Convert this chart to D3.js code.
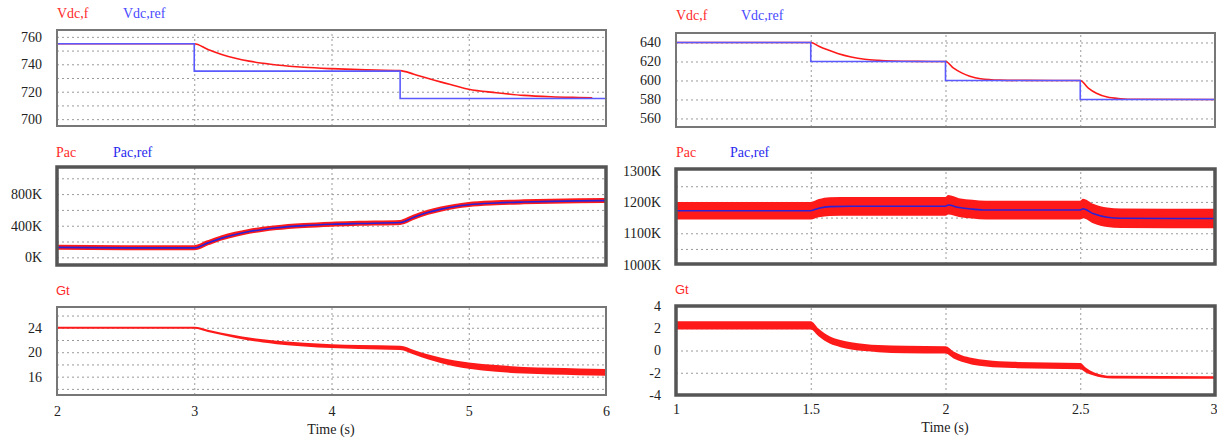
<!DOCTYPE html>
<html><head><meta charset="utf-8">
<script src="https://cdn.jsdelivr.net/npm/d3@7"></script>
<style>body{margin:0;background:#fff}svg{display:block}</style>
</head><body><svg id="c" width="1217" height="441"></svg>
<script>
// ---------- data ----------
const leftXTicks = [2, 3, 4, 5, 6];
const rightXTicks = [1, 1.5, 2, 2.5, 3];

// left column (2 s .. 6 s)
const tLeftVdc = [2, 3, 3.1, 3.2, 3.3, 3.4, 3.5, 3.6, 3.8, 4.0, 4.2, 4.5, 4.6, 4.7, 4.8, 4.9, 5.0, 5.2, 5.4, 5.6, 5.8, 5.9];
const vdcFLeft = [755, 755, 750.8, 747.2, 744.4, 742.3, 740.7, 739.5, 737.8, 736.8, 736.1, 735.4, 732.8, 729.8, 727, 724.4, 721.8, 719.3, 717.3, 716.3, 715.8, 715.6];
const tLeftRef = [2, 3, 4.5, 6];
const vdcRefLeft = [755, 735, 715, 715];

const tLeftPac = [2, 2.5, 3, 3.1, 3.2, 3.3, 3.4, 3.5, 3.6, 3.8, 4.0, 4.2, 4.5, 4.6, 4.7, 4.8, 4.9, 5.0, 5.2, 5.4, 5.6, 5.8, 6.0];
const pacLeft = [128, 122, 122, 185, 245, 292, 328, 355, 376, 403, 420, 430, 442, 510, 568, 612, 645, 668, 690, 702, 710, 716, 720];
const pacRefLeft = [126, 120, 120, 183, 243, 290, 326, 353, 374, 401, 418, 428, 440, 508, 566, 610, 643, 666, 688, 700, 708, 714, 718];

const tLeftGt = [2, 3, 3.1, 3.2, 3.3, 3.4, 3.5, 3.6, 3.8, 4.0, 4.2, 4.5, 4.6, 4.7, 4.8, 4.9, 5.0, 5.2, 5.4, 5.6, 5.8, 6.0];
const gtLeft = [24, 24, 23.5, 23.0, 22.55, 22.15, 21.85, 21.6, 21.25, 21.0, 20.85, 20.7, 20.0, 19.25, 18.65, 18.15, 17.8, 17.35, 17.05, 16.9, 16.8, 16.7];
const gtLeftAmp = [0.15, 0.15, 0.18, 0.2, 0.22, 0.24, 0.26, 0.28, 0.3, 0.32, 0.33, 0.35, 0.38, 0.42, 0.46, 0.5, 0.52, 0.55, 0.55, 0.55, 0.55, 0.55];

// right column (1 s .. 3 s)
const tRightVdc = [1, 1.5, 1.53, 1.56, 1.6, 1.65, 1.7, 1.75, 1.8, 1.9, 2.0, 2.03, 2.06, 2.09, 2.13, 2.2, 2.3, 2.5, 2.53, 2.56, 2.6, 2.65, 2.7, 3.0];
const vdcFRight = [640, 640, 636, 632.5, 628.5, 624.8, 622.4, 621.2, 620.5, 620.1, 620, 613, 608, 604.5, 601.8, 600.4, 600.1, 600, 592, 586.5, 582.5, 580.8, 580.2, 580];
const tRightRef = [1, 1.5, 2, 2.5, 3];
const vdcRefRight = [640, 620, 600, 580, 580];

const tRightPac = [1, 1.5, 1.53, 1.57, 1.65, 2.0, 2.01, 2.05, 2.1, 2.15, 2.5, 2.51, 2.55, 2.6, 2.65, 3.0];
const pacRight = [1172, 1172, 1180, 1185, 1186, 1186, 1191, 1182, 1177, 1174, 1174, 1179, 1162, 1151, 1148, 1147];
const pacRightAmp = [28, 28, 29, 30, 30, 30, 31, 30, 30, 30, 30, 31, 31, 31, 31, 31];
const pacRefRight = [1172, 1172, 1180, 1185, 1186, 1186, 1190, 1182, 1177, 1174, 1174, 1178, 1162, 1151, 1148, 1147];

const tRightGt = [1, 1.5, 1.53, 1.57, 1.61, 1.65, 1.7, 1.75, 1.85, 2.0, 2.03, 2.06, 2.1, 2.15, 2.25, 2.5, 2.52, 2.55, 2.58, 2.62, 3.0];
const gtRight = [2.26, 2.26, 1.6, 0.95, 0.62, 0.42, 0.27, 0.17, 0.09, 0.05, -0.4, -0.72, -0.97, -1.15, -1.3, -1.4, -1.75, -2.1, -2.3, -2.4, -2.43];
const gtRightAmp = [0.38, 0.38, 0.35, 0.33, 0.32, 0.32, 0.32, 0.32, 0.33, 0.33, 0.32, 0.3, 0.3, 0.29, 0.28, 0.28, 0.22, 0.15, 0.13, 0.12, 0.12];

// tick labels / gridlines
const vdcLeftLabels = [700, 720, 740, 760];
const vdcLeftGrid = [700, 710, 720, 730, 740, 750, 760];
const pacLeftLabels = [0, 400, 800];
const pacLeftGrid = [0, 200, 400, 600, 800, 1000];
const gtLeftLabels = [16, 20, 24];
const gtLeftGrid = [14, 16, 18, 20, 22, 24, 26];
const vdcRightLabels = [560, 580, 600, 620, 640];
const pacRightLabels = [1000, 1100, 1200, 1300];
const pacRightGrid = [1050, 1100, 1150, 1200, 1250];
const gtRightLabels = [-4, -2, 0, 2, 4];
const gtRightGrid = [-2, 0, 2];

// ---------- drawing ----------
const SERIF = "'Liberation Serif', 'Times New Roman', 'DejaVu Serif', serif";
const SANS = "'Liberation Sans', Arial, sans-serif";
const RED = "#ff1a1a", BLUE_L = "#5a5aff", BLUE_D = "#2a22d8";
const svg = d3.select("#c");
const defs = svg.append("defs");
let clipId = 0;
const zip = (t, v) => t.map((d, i) => [d, v[i]]);

function panel(cfg) {
  const x = d3.scaleLinear().domain(cfg.xDom).range([cfg.x0, cfg.x1]);
  const y = d3.scaleLinear().domain(cfg.yDom).range([cfg.y1, cfg.y0]);
  const g = svg.append("g");
  const w = cfg.x1 - cfg.x0, h = cfg.y1 - cfg.y0;

  g.append("g").attr("transform", `translate(${cfg.x0},0)`)
    .call(d3.axisLeft(y).tickValues(cfg.grid).tickSize(-w).tickFormat(""))
    .call(s => { s.select(".domain").remove(); s.selectAll("line").attr("stroke", "#9a9a9a").attr("stroke-dasharray", "2,3"); });
  g.append("g").attr("transform", `translate(0,${cfg.y1})`)
    .call(d3.axisBottom(x).tickValues(cfg.vgrid).tickSize(-h).tickFormat(""))
    .call(s => { s.select(".domain").remove(); s.selectAll("line").attr("stroke", "#9a9a9a").attr("stroke-dasharray", "2,3"); });

  const id = "clip" + (clipId++);
  defs.append("clipPath").attr("id", id).append("rect").attr("x", cfg.x0).attr("y", cfg.y0).attr("width", w).attr("height", h);
  const plot = g.append("g").attr("clip-path", `url(#${id})`);

  cfg.series.forEach(s => {
    if (s.type === "band") {
      const data = s.t.map((d, i) => ({ t: d, v: s.v[i], a: s.a[i] }));
      plot.append("path").datum(data)
        .attr("d", d3.area().x(d => x(d.t)).y0(d => y(d.v - d.a)).y1(d => y(d.v + d.a)).curve(d3.curveMonotoneX))
        .attr("fill", s.color);
    } else {
      plot.append("path").datum(zip(s.t, s.v))
        .attr("d", d3.line().x(d => x(d[0])).y(d => y(d[1])).curve(s.step ? d3.curveStepAfter : d3.curveMonotoneX))
        .attr("fill", "none").attr("stroke", s.color).attr("stroke-width", s.width);
    }
  });

  g.append("rect").attr("x", cfg.x0).attr("y", cfg.y0).attr("width", w).attr("height", h)
    .attr("fill", "none").attr("stroke", cfg.frameColor).attr("stroke-width", cfg.frameWidth);

  g.append("g").attr("transform", `translate(${cfg.x0 - 15},0)`)
    .call(d3.axisLeft(y).tickValues(cfg.labels).tickSize(0).tickPadding(0).tickFormat(cfg.fmt))
    .call(s => { s.attr("font-family", SERIF).attr("font-size", 14); s.select(".domain").remove(); s.selectAll("text").attr("fill", "#222"); });

  cfg.legend.forEach(l => {
    svg.append("text").attr("x", l.x).attr("y", l.y).text(l.text)
      .attr("font-family", l.font || SERIF).attr("font-size", l.size || 14).attr("fill", l.color);
  });

  if (cfg.xLabels) {
    const last = cfg.xLabels[cfg.xLabels.length - 1];
    g.append("g").attr("transform", `translate(0,${cfg.y1})`)
      .call(d3.axisBottom(x).tickValues(cfg.xLabels).tickSize(0).tickPadding(cfg.xPad).tickFormat(d => String(d)))
      .call(s => {
        s.attr("font-family", SERIF).attr("font-size", 14);
        s.select(".domain").remove();
        s.selectAll("text").attr("fill", "#222")
          .attr("text-anchor", d => (cfg.endAnchorLast && d === last) ? "end" : "middle")
          .attr("dx", d => (cfg.endAnchorLast && d === last) ? 2 : 0);
      });
    svg.append("text").attr("x", cfg.timeX).attr("y", cfg.timeY).attr("text-anchor", "middle")
      .attr("font-family", SERIF).attr("font-size", 14).attr("fill", "#222").text("Time (s)");
  }
}

const L = { xDom: [2, 6], x0: 57, x1: 606, vgrid: [3, 4, 5] };
const R = { xDom: [1, 3], x0: 676, x1: 1215, vgrid: [1.5, 2, 2.5] };
const thin = { frameColor: "#777", frameWidth: 2 };
const thick = { frameColor: "#555", frameWidth: 3.5 };

panel({ ...L, ...thin, y0: 30, y1: 126, yDom: [695, 765], grid: vdcLeftGrid, labels: vdcLeftLabels, fmt: d => d,
  series: [
    { t: tLeftVdc, v: vdcFLeft, color: RED, width: 1.6 },
    { t: tLeftRef, v: vdcRefLeft, color: BLUE_L, width: 1.6, step: true }
  ],
  legend: [{ x: 57, y: 18, text: "Vdc,f", color: "#ff2a2a" }, { x: 123, y: 18, text: "Vdc,ref", color: "#4a4aff" }] });

panel({ ...L, ...thick, y0: 167, y1: 265, yDom: [-97, 1143], grid: pacLeftGrid, labels: pacLeftLabels, fmt: d => d + "K",
  series: [
    { t: tLeftPac, v: pacLeft, color: RED, width: 5 },
    { t: tLeftPac, v: pacRefLeft, color: BLUE_D, width: 1.6 }
  ],
  legend: [{ x: 56, y: 157, text: "Pac", color: "#ff2a2a" }, { x: 113, y: 157, text: "Pac,ref", color: "#2a2aee" }] });

panel({ ...L, ...thin, y0: 307, y1: 395, yDom: [13, 27.4], grid: gtLeftGrid, labels: gtLeftLabels, fmt: d => d,
  series: [{ type: "band", t: tLeftGt, v: gtLeft, a: gtLeftAmp, color: RED }],
  legend: [{ x: 56, y: 295, text: "Gt", color: "#ff2a2a", font: SANS, size: 13 }],
  xLabels: leftXTicks, xPad: 11, timeX: 331, timeY: 434 });

panel({ ...R, ...thin, y0: 33, y1: 127, yDom: [551, 650], grid: vdcRightLabels, labels: vdcRightLabels, fmt: d => d,
  series: [
    { t: tRightVdc, v: vdcFRight, color: RED, width: 1.6 },
    { t: tRightRef, v: vdcRefRight, color: BLUE_L, width: 1.6, step: true }
  ],
  legend: [{ x: 676, y: 20, text: "Vdc,f", color: "#ff2a2a" }, { x: 741, y: 20, text: "Vdc,ref", color: "#4a4aff" }] });

panel({ ...R, ...thick, y0: 169, y1: 264, yDom: [1002, 1305], grid: pacRightGrid, labels: pacRightLabels, fmt: d => d + "K",
  series: [
    { type: "band", t: tRightPac, v: pacRight, a: pacRightAmp, color: RED },
    { t: tRightPac, v: pacRefRight, color: BLUE_D, width: 1.6 }
  ],
  legend: [{ x: 676, y: 157, text: "Pac", color: "#ff2a2a" }, { x: 730, y: 157, text: "Pac,ref", color: "#2a2aee" }] });

panel({ ...R, ...thick, y0: 306, y1: 395, yDom: [-4, 4], grid: gtRightGrid, labels: gtRightLabels, fmt: d => d,
  series: [{ type: "band", t: tRightGt, v: gtRight, a: gtRightAmp, color: RED }],
  legend: [{ x: 675, y: 294, text: "Gt", color: "#ff2a2a", font: SANS, size: 13 }],
  xLabels: rightXTicks, xPad: 9, timeX: 945, timeY: 432, endAnchorLast: true });
</script>
</body></html>
